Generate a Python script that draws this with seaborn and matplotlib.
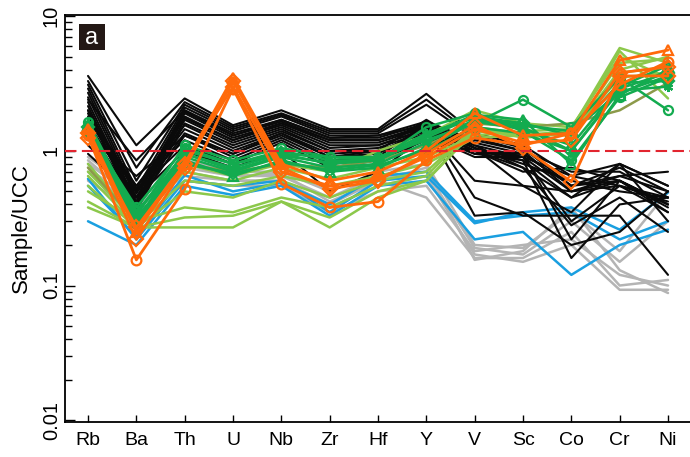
import numpy as np
import pandas as pd
import matplotlib
matplotlib.use("Agg")
import matplotlib.pyplot as plt
from matplotlib.patches import Rectangle
import seaborn as sns

elements = ["Rb", "Ba", "Th", "U", "Nb", "Zr", "Hf", "Y", "V", "Sc", "Co", "Cr", "Ni"]
y_ticks = [0.01, 0.1, 1, 10]
y_tick_labels = ["0.01", "0.1", "1", "10"]

# --- series (Sample/UCC) ---
gray_series = [
    [0.90, 0.50, 0.85, 0.70, 0.70, 0.50, 0.70, 0.80, 0.20, 0.19, 0.35, 0.18, 0.50],
    [0.80, 0.45, 0.75, 0.65, 0.65, 0.45, 0.65, 0.70, 0.19, 0.17, 0.30, 0.15, 0.30],
    [0.75, 0.40, 0.70, 0.60, 0.60, 0.40, 0.60, 0.45, 0.16, 0.16, 0.25, 0.10, 0.11],
    [0.70, 0.38, 0.65, 0.60, 0.60, 0.38, 0.55, 0.65, 0.17, 0.15, 0.20, 0.093, 0.093],
    [0.85, 0.42, 0.80, 0.65, 0.68, 0.42, 0.60, 0.75, 0.155, 0.18, 0.38, 0.13, 0.088],
    [0.60, 0.35, 0.60, 0.55, 0.55, 0.35, 0.50, 0.55, 0.18, 0.20, 0.22, 0.12, 0.10],
]
blue_series = [
    [0.30, 0.20, 0.55, 0.47, 0.55, 0.33, 0.55, 0.60, 0.22, 0.25, 0.12, 0.20, 0.26],
    [0.62, 0.22, 0.60, 0.55, 0.60, 0.35, 0.60, 0.65, 0.29, 0.35, 0.38, 0.26, 0.49],
    [0.55, 0.23, 0.66, 0.50, 0.58, 0.40, 0.65, 0.70, 0.30, 0.33, 0.35, 0.22, 0.30],
]
black_series = [
    [3.60, 1.10, 2.45, 1.55, 2.00, 1.45, 1.45, 2.65, 1.35, 1.10, 0.65, 0.80, 0.55],
    [3.30, 0.75, 2.30, 1.50, 1.90, 1.40, 1.40, 2.40, 1.30, 1.05, 0.55, 0.75, 0.50],
    [3.10, 0.60, 2.20, 1.45, 1.85, 1.35, 1.35, 2.20, 1.25, 1.00, 0.70, 0.70, 0.45],
    [2.90, 0.52, 2.10, 1.40, 1.80, 1.30, 1.30, 1.65, 1.20, 1.00, 0.50, 0.65, 0.50],
    [2.70, 0.48, 2.00, 1.35, 1.70, 1.25, 1.25, 1.60, 1.15, 0.95, 0.22, 0.60, 0.40],
    [2.50, 0.45, 1.95, 1.30, 1.65, 1.20, 1.20, 1.55, 1.10, 0.90, 0.30, 0.55, 0.35],
    [2.30, 0.42, 1.90, 1.25, 1.60, 1.15, 1.15, 1.50, 1.05, 0.85, 0.45, 0.80, 0.30],
    [2.15, 0.40, 1.80, 1.20, 1.55, 1.10, 1.10, 1.45, 1.05, 0.80, 0.60, 0.50, 0.45],
    [2.00, 0.38, 1.70, 1.15, 1.50, 1.05, 1.10, 1.45, 1.00, 0.75, 0.28, 0.45, 0.25],
    [1.90, 0.36, 1.60, 1.10, 1.45, 1.00, 1.05, 1.40, 1.00, 0.70, 0.75, 0.60, 0.40],
    [1.80, 0.55, 1.55, 1.05, 1.40, 1.00, 1.00, 1.35, 0.95, 0.95, 0.55, 0.65, 0.70],
    [1.70, 0.50, 1.45, 1.00, 1.35, 0.95, 1.00, 1.30, 0.95, 0.85, 0.16, 0.40, 0.45],
    [1.60, 0.45, 1.35, 0.95, 1.30, 0.90, 0.95, 1.50, 0.60, 0.55, 0.50, 0.60, 0.35],
    [1.50, 0.40, 1.30, 0.90, 1.25, 0.85, 0.90, 1.60, 0.45, 0.33, 0.33, 0.33, 0.12],
    [1.40, 0.55, 1.20, 0.85, 1.20, 0.80, 0.85, 1.50, 0.33, 0.35, 0.20, 0.25, 0.50],
    [1.30, 0.65, 1.30, 0.95, 1.35, 0.90, 1.00, 1.70, 1.05, 0.55, 0.35, 0.80, 0.55],
    [1.10, 0.50, 1.10, 0.80, 1.15, 0.75, 0.85, 1.20, 1.00, 0.95, 0.55, 0.60, 0.40],
    [0.95, 0.45, 1.00, 0.75, 1.00, 0.50, 0.70, 1.30, 0.90, 0.90, 0.50, 0.55, 0.45],
    [2.40, 0.85, 2.00, 1.30, 1.70, 1.25, 1.30, 1.55, 1.10, 0.75, 0.45, 0.60, 0.38],
    [2.00, 0.50, 1.75, 1.20, 1.60, 1.20, 1.20, 1.50, 1.00, 0.90, 0.65, 0.55, 0.42],
]
lightgreen_series = [
    [0.80, 0.30, 0.70, 0.60, 0.75, 0.62, 0.75, 0.90, 1.30, 1.40, 1.45, 5.80, 4.50],
    [0.65, 0.28, 0.60, 0.55, 0.65, 0.55, 0.65, 0.80, 1.25, 1.30, 1.40, 5.50, 2.45],
    [0.55, 0.27, 0.50, 0.45, 0.60, 0.45, 0.60, 0.70, 1.50, 1.25, 1.35, 4.50, 4.80],
    [0.50, 0.30, 0.38, 0.35, 0.45, 0.38, 0.55, 0.65, 1.50, 1.35, 1.30, 4.00, 5.00],
    [0.42, 0.27, 0.32, 0.33, 0.42, 0.32, 0.50, 0.60, 1.45, 1.30, 1.40, 3.80, 4.20],
    [0.38, 0.27, 0.27, 0.27, 0.42, 0.27, 0.45, 0.60, 1.40, 1.30, 1.35, 3.50, 3.80],
    [0.70, 0.30, 0.80, 0.65, 0.80, 0.70, 1.00, 1.30, 2.00, 1.60, 1.50, 5.00, 3.50],
]
olive_series = [
    [0.75, 0.30, 0.80, 0.70, 0.80, 0.75, 0.85, 1.10, 1.60, 1.50, 1.60, 2.00, 3.20],
]
green_series = [
    [1.65, 0.33, 1.10, 0.85, 1.05, 0.90, 0.90, 1.20, 1.60, 2.40, 1.50, 3.50, 2.00],
    [1.55, 0.30, 1.00, 0.80, 1.00, 0.85, 0.85, 1.30, 1.85, 1.70, 0.80, 2.60, 4.00],
    [1.50, 0.35, 0.95, 0.75, 0.95, 0.80, 0.85, 1.25, 1.80, 1.60, 1.30, 3.20, 3.30],
    [1.45, 0.28, 0.90, 0.70, 0.90, 0.75, 0.80, 1.15, 1.70, 1.50, 1.00, 2.80, 3.00],
    [1.40, 0.38, 1.05, 0.80, 0.95, 0.90, 0.85, 1.50, 1.90, 1.40, 0.85, 2.50, 3.50],
    [1.50, 0.32, 0.85, 0.65, 0.85, 0.70, 0.75, 1.05, 1.65, 1.45, 1.10, 3.00, 4.30],
    [1.60, 0.30, 0.95, 0.72, 0.92, 0.82, 0.88, 1.35, 1.75, 1.55, 1.40, 2.70, 3.60],
    [1.35, 0.36, 0.80, 0.68, 0.82, 0.72, 0.78, 1.00, 1.50, 1.35, 1.00, 2.90, 3.80],
]
green_markers = ["o", "^", "D", (6, 2, 0), "o", "^", (6, 2, 0), "D"]
orange_series = [
    [1.30, 0.155, 0.52, 2.90, 0.57, 0.38, 0.42, 0.85, 1.25, 1.10, 1.35, 3.10, 4.60],
    [1.45, 0.25, 0.80, 3.50, 0.80, 0.60, 0.70, 1.00, 1.90, 1.30, 1.35, 4.70, 5.60],
    [1.35, 0.22, 0.75, 3.30, 0.75, 0.52, 0.60, 0.95, 1.55, 1.05, 0.59, 3.60, 3.60],
    [1.25, 0.27, 0.80, 3.00, 0.70, 0.55, 0.62, 0.90, 1.45, 1.15, 1.20, 3.80, 4.20],
]
orange_markers = ["o", "^", "D", "D"]

# --- figure ---
sns.set_style("ticks")
plt.rcParams["font.family"] = ["Liberation Sans", "DejaVu Sans"]
plt.rcParams.update({"text.color": "black", "axes.labelcolor": "black",
                     "xtick.color": "black", "ytick.color": "black"})

fig = plt.figure(figsize=(6.9, 4.57), dpi=100)
ax = fig.add_axes([65 / 690, 1 - 422 / 457, 625 / 690, 407 / 457])
x = np.arange(len(elements))

def draw(series_list, color, lw=1.8, markers=None, ms=6.5, z=2):
    for i, vals in enumerate(series_list):
        kw = {}
        if markers is not None:
            kw = dict(marker=markers[i], markersize=ms, markerfacecolor="none",
                      markeredgecolor=color, markeredgewidth=1.6)
        sns.lineplot(x=x, y=vals, ax=ax, color=color, linewidth=lw, zorder=z, **kw)

draw(gray_series, "#b4b4b4", z=2)
draw(blue_series, "#1a9fe0", z=2.1)
draw(black_series, "#0a0a0a", lw=1.5, z=3)
draw(lightgreen_series, "#8cc84b", z=4)
draw(olive_series, "#8c9a4a", z=4.1)
draw(green_series, "#13ab4f", markers=green_markers, z=5)
draw(orange_series, "#ff6a0a", lw=2.0, markers=orange_markers, ms=7, z=6)

ax.axhline(1, color="#e2252f", lw=1.5, linestyle=(0, (5.5, 2.6)), zorder=7)

ax.set_yscale("log")
ax.set_ylim(0.0097, 10.2)
ax.set_xlim(-0.476, 12.455)
ax.set_xticks(x)
ax.set_xticklabels(elements, fontsize=14)
ax.set_yticks(y_ticks)
ax.set_yticklabels(y_tick_labels, fontsize=14.5, rotation=90, va="center")
ax.set_xlabel("")
ax.set_ylabel("Sample/UCC", fontsize=16)
ax.yaxis.set_label_coords(-0.053, 0.477)

ax.tick_params(axis="x", direction="in", length=5, width=1, pad=7, top=False)
ax.tick_params(axis="y", which="major", direction="in", length=7, width=1, pad=3)
ax.tick_params(axis="y", which="minor", direction="in", length=5, width=1)
for s in ["left", "bottom", "top"]:
    ax.spines[s].set_linewidth(1.3)
    ax.spines[s].set_color("black")
ax.spines["right"].set_visible(False)

# panel label
ax.add_patch(Rectangle((0.0224, 0.914), 0.0416, 0.064, transform=ax.transAxes,
                       facecolor="#231815", edgecolor="none", zorder=10))
ax.text(0.0432, 0.944, "a", transform=ax.transAxes, color="white",
        fontsize=17, ha="center", va="center", zorder=11)

fig.savefig("out.png", dpi=100)
